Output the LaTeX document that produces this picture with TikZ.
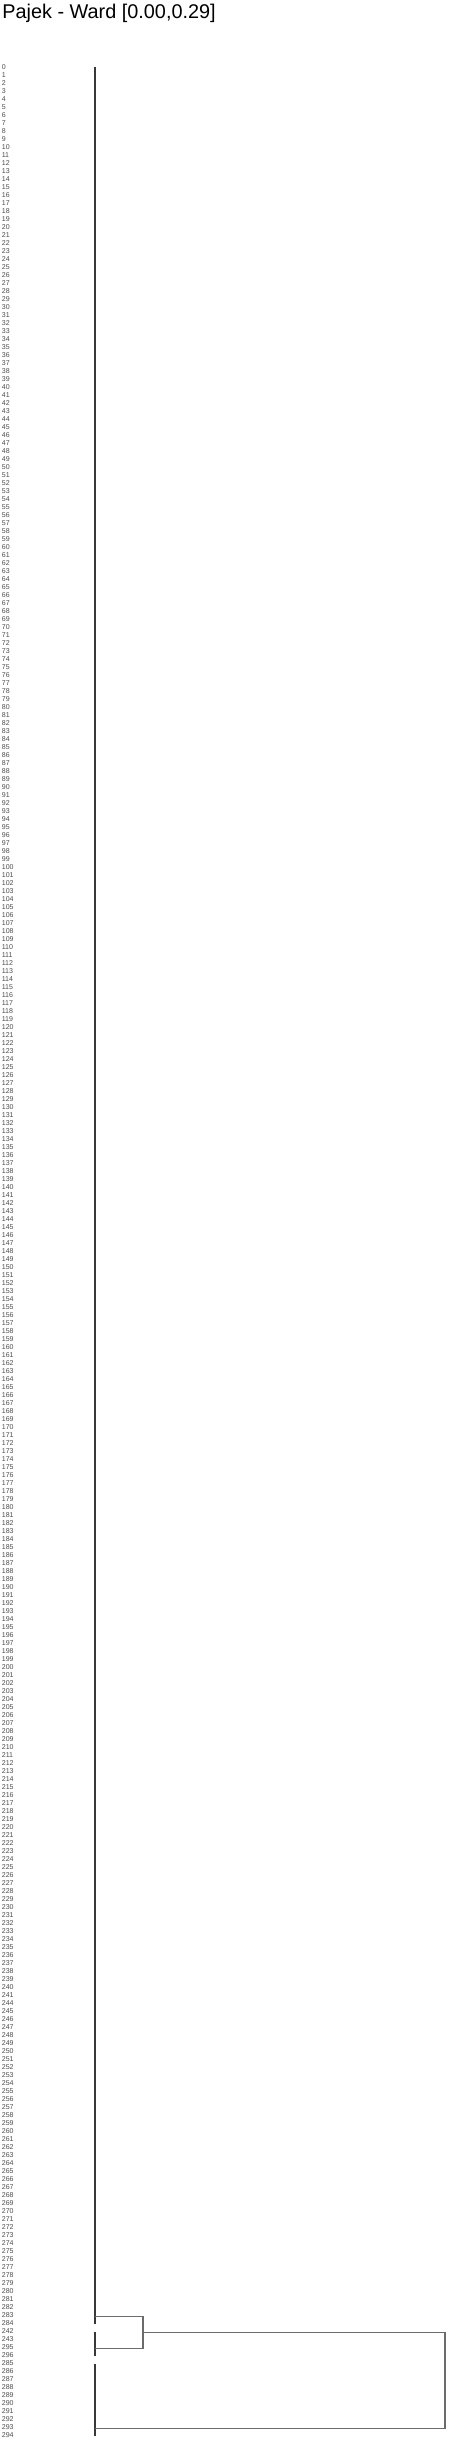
\documentclass[tikz,border=0pt]{standalone}
\usepackage{fontspec}
\setmainfont{Liberation Sans}
\usepackage{tikz}
\usetikzlibrary{calc}
\tikzset{
  titlelabel/.style={anchor=base west, inner sep=0pt, font=\fontsize{11.3}{13}\selectfont},
  leaflabel/.style={anchor=west, inner sep=0pt, text=black!70, font=\fontsize{4}{4.5}\selectfont},
  leafline/.style={draw=black!78, line width=0.8pt},
  joinline/.style={draw=black!58, line width=0.8pt}
}

\begin{document}
\begin{tikzpicture}[x=0.02cm, y=-0.02cm]
\useasboundingbox (0,0) rectangle (465,2456);
\node[titlelabel] (title) at (2,19) {Pajek - Ward [0.00,0.29]};
% leaves, in dendrogram order
\foreach \lab [count=\k from 0] in {0,1,...,241,244,245,...,284,242,243,295,296,285,286,...,294}
  \node[leaflabel] (leaf\k) at (1.5,67.5+8*\k) {\lab};
\coordinate (stem) at (95,0);
\coordinate (mid) at (143,0);
\coordinate (root) at (445,0);
% the three clusters
\draw[leafline] (leaf0 -| stem) -- (leaf282 -| stem);
\draw[leafline] (leaf283 -| stem) -- (leaf286 -| stem);
\draw[leafline] (leaf287 -| stem) -- (leaf296 -| stem);
\coordinate (ca) at (95,2316.5);
\coordinate (cb) at (95,2348.5);
\coordinate (cc) at (95,2428.5);
\coordinate (cab) at (143,2332.5);
% joins
\draw[joinline] (ca) -- (ca -| mid) -- (cb -| mid) -- (cb);
\draw[joinline] (cab) -- (cab -| root) -- (cc -| root) -- (cc);
\end{tikzpicture}
\end{document}
